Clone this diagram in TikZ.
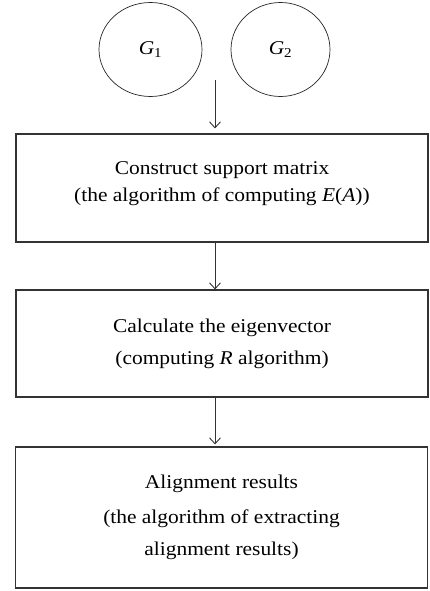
\documentclass[tikz,border=0pt]{standalone}
\usepackage{fontspec}
\setmainfont{Liberation Serif}[FakeStretch=1.1]
\usetikzlibrary{arrows.meta,shapes.geometric}
\begin{document}
\begin{tikzpicture}[x=1pt,y=1pt,
  graph/.style={draw=black!85,line width=0.7pt,ellipse,minimum height=94pt,inner sep=0pt,font=\fontsize{19.5}{23}\selectfont},
  stepbox/.style={draw=black!80,line width=1.1pt,minimum width=412pt,inner sep=0pt,align=center,
     font=\fontsize{19.5}{32}\selectfont},
  flow/.style={draw=black!80,line width=0.9pt,-{Straight Barb[length=6pt,width=11pt,line width=0.9pt]}}
]
\useasboundingbox (0,0) rectangle (429,-591);
\node[graph,minimum width=103pt] (g1) at (150.5,-49.5) {\textit{G}\textsubscript{1}};
\node[graph,minimum width=99pt] (g2) at (280.5,-49.5) {\textit{G}\textsubscript{2}};
\coordinate (start) at (215,-80);
\node[stepbox,minimum height=108pt] (b1) at (222,-188) {Construct support matrix\\[-5pt](the algorithm of computing \textit{E}(\textit{A}))\\[-19pt]\mbox{}};
\node[stepbox,minimum height=107pt] (b2) at (222,-343.5) {Calculate the eigenvector\\(computing \textit{R} algorithm)};
\node[stepbox,minimum height=141pt] (b3) at (221.5,-517.5) {Alignment results\\[3pt](the algorithm of extracting\\alignment results)};
\draw[flow,shorten >=5pt] (start) -- (start |- b1.north);
\draw[flow] (start |- b1.south) -- (start |- b2.north);
\draw[flow,shorten >=2pt] (start |- b2.south) -- (start |- b3.north);
\end{tikzpicture}
\end{document}
